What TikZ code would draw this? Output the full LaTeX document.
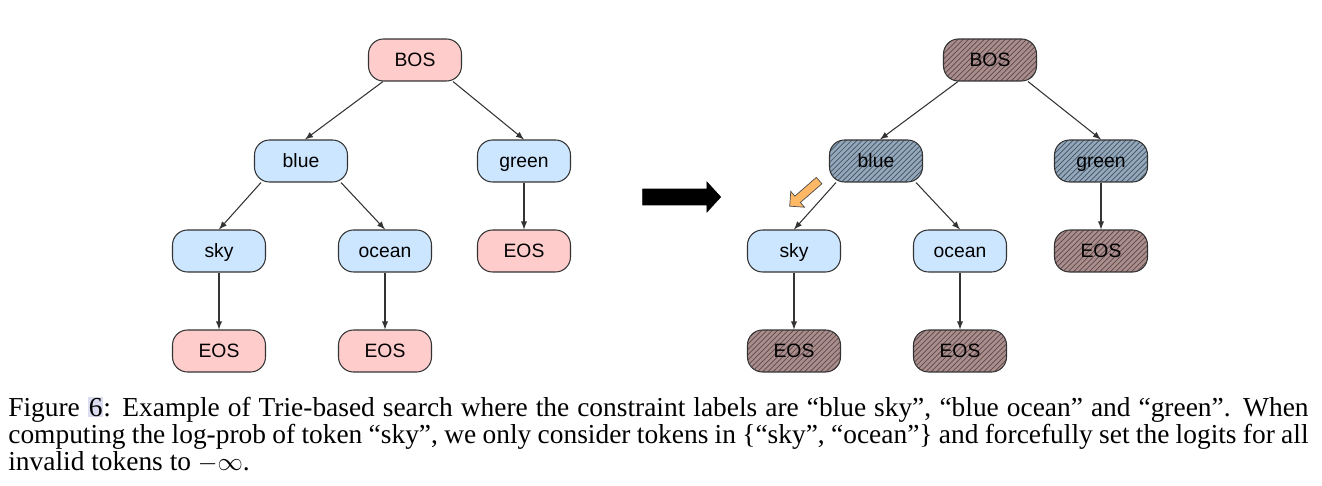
\documentclass[tikz,border=0pt]{standalone}
\usepackage{fontspec}
\setmainfont{Liberation Serif}
\setsansfont{Liberation Sans}
\usetikzlibrary{calc,patterns,arrows,shapes.arrows}

\definecolor{pinkfill}{HTML}{FFCCCC}
\definecolor{bluefill}{HTML}{CCE6FF}
\definecolor{redmask}{HTML}{AA8E8E}
\definecolor{redline}{HTML}{5E4848}
\definecolor{bluemask}{HTML}{93A8BC}
\definecolor{blueline}{HTML}{44525E}
\definecolor{hintorange}{HTML}{FFB866}
\definecolor{linkbox}{HTML}{DCDDF0}

\begin{document}
\begin{tikzpicture}[x=0.02cm,y=-0.02cm,
        token/.style={draw=black!80,line width=0.6pt,rounded corners=0.3cm,minimum width=1.86cm,minimum height=0.84cm,text height=8pt,text depth=1pt,font=\sffamily\fontsize{11}{13}\selectfont},
        eos/.style={token,fill=pinkfill},
        word/.style={token,fill=bluefill},
        maskred/.style={token,preaction={fill=redmask},pattern=north east lines,pattern color=redline},
        maskblue/.style={token,preaction={fill=bluemask},pattern=north east lines,pattern color=blueline},
        edge/.style={draw=black!80,line width=0.6pt,-latex},
        capline/.style={anchor=base west,inner sep=0pt,font=\fontsize{15.6}{18}\selectfont}]
        \useasboundingbox (0,0) rectangle (1322,486);
        % left trie
        \node[eos] (BOS) at (415,60) {BOS};
        \node[word] (blue) at (301,161) {blue};
        \node[word] (green) at (524,161) {green};
        \node[word] (sky) at (219,251) {sky};
        \node[word] (ocean) at (385,251) {ocean};
        \node[eos] (greenEOS) at (524,251) {EOS};
        \node[eos] (skyEOS) at (219,351) {EOS};
        \node[eos] (oceanEOS) at (385,351) {EOS};
        \draw[edge] ([xshift=-0.64cm]BOS.south) -- ([xshift=0.08cm]blue.north);
        \draw[edge] ([xshift=0.76cm]BOS.south) -- (green.north);
        \draw[edge] ([xshift=-0.8cm]blue.south) -- (sky.north);
        \draw[edge] ([xshift=0.8cm]blue.south) -- (ocean.north);
        \draw[edge] (green) -- (greenEOS);
        \draw[edge] (sky) -- (skyEOS);
        \draw[edge] (ocean) -- (oceanEOS);
        % big arrow
        \node[single arrow,fill=black,draw=black,inner sep=0pt,minimum height=1.56cm,minimum width=0.6cm,single arrow head extend=0.14cm,single arrow tip angle=95,text height=0.3cm] (go) at (678,197) {};
        % right trie, masked
        \node[maskred] (mBOS) at (990,60) {BOS};
        \node[maskblue] (mblue) at (876,161) {blue};
        \node[maskblue] (mgreen) at (1101,161) {green};
        \node[word] (msky) at (794,251) {sky};
        \node[word] (mocean) at (960,251) {ocean};
        \node[maskred] (mgreenEOS) at (1101,251) {EOS};
        \node[maskred] (mskyEOS) at (794,351) {EOS};
        \node[maskred] (moceanEOS) at (960,351) {EOS};
        \draw[edge] ([xshift=-0.64cm]mBOS.south) -- ([xshift=0.08cm]mblue.north);
        \draw[edge] ([xshift=0.76cm]mBOS.south) -- (mgreen.north);
        \draw[edge] ([xshift=-0.8cm]mblue.south) -- (msky.north);
        \draw[edge] ([xshift=0.8cm]mblue.south) -- (mocean.north);
        \draw[edge] (mgreen) -- (mgreenEOS);
        \draw[edge] (msky) -- (mskyEOS);
        \draw[edge] (mocean) -- (moceanEOS);
        % hint arrow
        \node[single arrow,fill=hintorange,draw=black!70,line width=0.4pt,inner sep=0pt,minimum height=0.78cm,minimum width=0.42cm,single arrow head extend=0.1cm,text height=0.12cm,rotate=-139] (hint) at (806,192) {};
        % caption
        \node[capline] (cap1) at (8,416) {\hbox to 740pt{Figure {\fboxsep=0.5pt\colorbox{linkbox}{6}}: Example of Trie-based search where the constraint labels are ``blue sky'', ``blue ocean'' and ``green''. When}};
        \node[capline] (cap2) at (8,443) {\hbox to 740pt{computing the log-prob of token ``sky'', we only consider tokens in \{``sky'', ``ocean''\} and forcefully set the logits for all}};
        \node[capline] (cap3) at (8,470) {invalid tokens to $-\infty$.};
    \end{tikzpicture}
\end{document}
